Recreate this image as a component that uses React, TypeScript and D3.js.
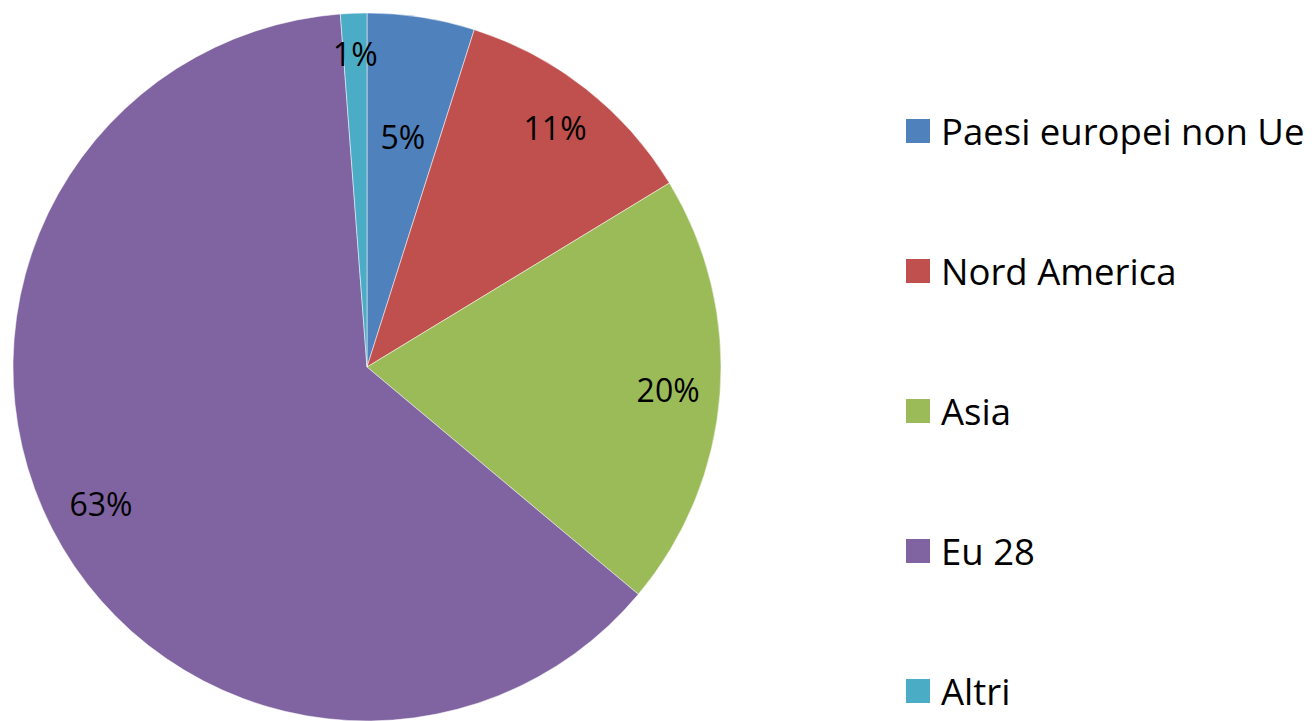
import React from "react";
import * as d3 from "d3";

const categories = ["Paesi europei non Ue", "Nord America", "Asia", "Eu 28", "Altri"];
const values = [4.9, 11.4, 19.8, 62.7, 1.2];
const colors = ["#4F81BD", "#C0504D", "#9BBB59", "#8064A2", "#4BACC6"];
const labelRadiusFactor = [0.66, 0.86, 0.853, 0.845, 0.885];

const W = 1316;
const H = 721;
const CX = 367;
const CY = 367;
const R = 354;
const FONT = "'Open Sans', 'Noto Sans', sans-serif";

export default function App() {
  const total = d3.sum(values);
  const pie = d3.pie<number>().value((d) => d).sort(null).startAngle(0).endAngle(2 * Math.PI);
  const arcs = pie(values);
  const arcGen = d3.arc<d3.PieArcDatum<number>>().innerRadius(0).outerRadius(R);
  const legendY = d3.scalePoint<string>().domain(categories).range([131, 691]);

  return (
    <svg width={W} height={H} style={{ position: "fixed", left: 0, top: 0, background: "#fff" }}>
      <g transform={`translate(${CX},${CY})`}>
        {arcs.map((a, i) => (
          <path key={i} d={arcGen(a) || ""} fill={colors[i]} stroke="#ffffff" strokeWidth={0.5} />
        ))}
        {arcs.map((a, i) => {
          const mid = (a.startAngle + a.endAngle) / 2;
          const r = R * labelRadiusFactor[i];
          const x = Math.sin(mid) * r;
          const y = -Math.cos(mid) * r;
          return (
            <text key={i} x={x} y={y} textAnchor="middle" dominantBaseline="central" fontFamily={FONT} fontSize={32} fill="#000">
              {Math.round((values[i] / total) * 100)}%
            </text>
          );
        })}
      </g>
      {categories.map((c, i) => {
        const y = legendY(c) as number;
        return (
          <g key={c}>
            <rect x={906} y={y - 12} width={24} height={24} fill={colors[i]} />
            <text x={941} y={y} dominantBaseline="central" fontFamily={FONT} fontSize={36.5} fill="#000">
              {c}
            </text>
          </g>
        );
      })}
    </svg>
  );
}
